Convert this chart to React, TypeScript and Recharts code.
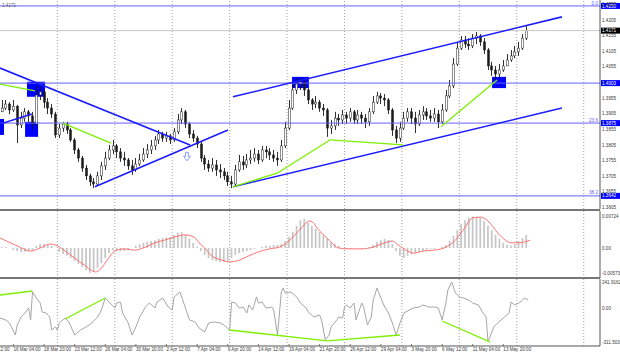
import React from 'react';
import { ComposedChart, Bar, Line, XAxis, YAxis, ReferenceLine, ReferenceArea, ReferenceDot } from 'recharts';

const FONT = '"Liberation Sans", Arial, sans-serif';
const FS = 4.6;

// ---------- time axis: H4 bar index (0 = Mon 15 Mar 00:00) ----------
const T_DOMAIN: [number, number] = [0, 313.5];
const timeTicks = [7, 23, 39, 55, 71, 87, 103, 119, 135, 151, 167, 183, 199, 215, 231, 247, 263];
const timeLabels = [
  '16 Mar 04:00', '18 Mar 20:00', '23 Mar 12:00', '26 Mar 04:00', '30 Mar 20:00', '2 Apr 12:00',
  '7 Apr 04:00', '9 Apr 20:00', '14 Apr 12:00', '19 Apr 04:00', '21 Apr 20:00', '26 Apr 12:00',
  '29 Apr 04:00', '3 May 20:00', '6 May 12:00', '11 May 04:00', '13 May 20:00',
];
const prevTimeLabel = '11 Mar 12:00';
const weekGridT = [30, 60, 90, 120, 150, 180, 210, 240, 270, 305];

// ---------- price pane ----------
const PRICE_DOMAIN: [number, number] = [1.36, 1.4269];
const priceTicks = [1.3605, 1.3655, 1.3705, 1.3755, 1.3805, 1.3855, 1.3905, 1.3955, 1.4055, 1.4105, 1.4155, 1.4205, 1.4255];
const headerText = '1.4171';
const firstOpen = 1.3911;
const closes = [
  1.3923, 1.3936, 1.3917, 1.3929, 1.3869, 1.3891, 1.3911, 1.3898, 1.3872, 1.3965,
  1.3975, 1.3942, 1.3923, 1.3904, 1.3837, 1.3859, 1.3872, 1.3853, 1.3821, 1.3789,
  1.3763, 1.3731, 1.3706, 1.3687, 1.3680, 1.3706, 1.3738, 1.3763, 1.3789, 1.3802,
  1.3783, 1.3763, 1.3757, 1.3738, 1.3725, 1.3744, 1.3757, 1.3776, 1.3789, 1.3802,
  1.3821, 1.3840, 1.3827, 1.3834, 1.3821, 1.3847, 1.3885, 1.3911, 1.3872, 1.3840,
  1.3827, 1.3808, 1.3763, 1.3744, 1.3731, 1.3741, 1.3725, 1.3719, 1.3706, 1.3687,
  1.3680, 1.3725, 1.3751, 1.3741, 1.3757, 1.3763, 1.3776, 1.3757, 1.3789, 1.3783,
  1.3773, 1.3763, 1.3757, 1.3802, 1.3859, 1.3923, 1.3981, 1.4000, 1.4007, 1.3981,
  1.3949, 1.3936, 1.3942, 1.3923, 1.3917, 1.3859, 1.3866, 1.3891, 1.3885, 1.3901,
  1.3891, 1.3911, 1.3885, 1.3901, 1.3891, 1.3879, 1.3911, 1.3942, 1.3962, 1.3955,
  1.3949, 1.3917, 1.3853, 1.3827, 1.3859, 1.3891, 1.3911, 1.3891, 1.3872, 1.3901,
  1.3911, 1.3898, 1.3891, 1.3904, 1.3879, 1.3917, 1.3962, 1.3994, 1.4064, 1.4115,
  1.4141, 1.4128, 1.4122, 1.4147, 1.4154, 1.4135, 1.4109, 1.4058, 1.4045, 1.4032,
  1.4045, 1.4058, 1.4077, 1.4090, 1.4103, 1.4115, 1.4147, 1.4171,
];
const highs = [
  1.3949, 1.3949, 1.3942, 1.3949, 1.3933, 1.3911, 1.3923, 1.3917, 1.3911, 1.3997,
  1.3994, 1.3981, 1.3955, 1.3936, 1.3911, 1.3872, 1.3879, 1.3879, 1.3859, 1.3827,
  1.3795, 1.3770, 1.3741, 1.3713, 1.3699, 1.3719, 1.3751, 1.3783, 1.3805, 1.3821,
  1.3808, 1.3795, 1.3783, 1.3763, 1.3757, 1.3763, 1.3776, 1.3795, 1.3808, 1.3821,
  1.3834, 1.3853, 1.3847, 1.3847, 1.3840, 1.3859, 1.3904, 1.3923, 1.3917, 1.3879,
  1.3853, 1.3834, 1.3815, 1.3773, 1.3757, 1.3763, 1.3757, 1.3744, 1.3731, 1.3719,
  1.3706, 1.3741, 1.3773, 1.3770, 1.3776, 1.3789, 1.3795, 1.3789, 1.3802, 1.3802,
  1.3795, 1.3789, 1.3783, 1.3821, 1.3879, 1.3949, 1.4000, 1.4019, 1.4019, 1.4013,
  1.3987, 1.3955, 1.3962, 1.3949, 1.3936, 1.3923, 1.3885, 1.3911, 1.3904, 1.3917,
  1.3911, 1.3923, 1.3917, 1.3917, 1.3911, 1.3904, 1.3923, 1.3962, 1.3975, 1.3971,
  1.3968, 1.3955, 1.3923, 1.3866, 1.3879, 1.3911, 1.3923, 1.3923, 1.3911, 1.3917,
  1.3929, 1.3923, 1.3917, 1.3923, 1.3917, 1.3936, 1.3981, 1.4013, 1.4083, 1.4135,
  1.4154, 1.4154, 1.4147, 1.4160, 1.4167, 1.4160, 1.4147, 1.4115, 1.4071, 1.4058,
  1.4064, 1.4077, 1.4096, 1.4109, 1.4122, 1.4135, 1.4160, 1.4186,
];
const lows = [
  1.3911, 1.3917, 1.3904, 1.3911, 1.3811, 1.3859, 1.3879, 1.3879, 1.3853, 1.3866,
  1.3949, 1.3923, 1.3904, 1.3891, 1.3827, 1.3827, 1.3847, 1.3840, 1.3815, 1.3776,
  1.3751, 1.3719, 1.3693, 1.3674, 1.3667, 1.3674, 1.3693, 1.3725, 1.3757, 1.3776,
  1.3763, 1.3751, 1.3738, 1.3725, 1.3709, 1.3719, 1.3738, 1.3751, 1.3763, 1.3776,
  1.3789, 1.3808, 1.3815, 1.3815, 1.3808, 1.3815, 1.3840, 1.3872, 1.3859, 1.3827,
  1.3815, 1.3795, 1.3751, 1.3725, 1.3719, 1.3719, 1.3706, 1.3699, 1.3693, 1.3674,
  1.3667, 1.3674, 1.3719, 1.3725, 1.3731, 1.3744, 1.3751, 1.3744, 1.3751, 1.3763,
  1.3757, 1.3751, 1.3738, 1.3751, 1.3795, 1.3853, 1.3917, 1.3968, 1.3981, 1.3962,
  1.3936, 1.3917, 1.3923, 1.3911, 1.3898, 1.3831, 1.3840, 1.3853, 1.3866, 1.3872,
  1.3872, 1.3879, 1.3872, 1.3872, 1.3872, 1.3859, 1.3866, 1.3904, 1.3936, 1.3936,
  1.3929, 1.3904, 1.3834, 1.3811, 1.3815, 1.3853, 1.3879, 1.3872, 1.3843, 1.3866,
  1.3885, 1.3885, 1.3879, 1.3879, 1.3859, 1.3872, 1.3911, 1.3955, 1.3987, 1.4058,
  1.4109, 1.4115, 1.4109, 1.4115, 1.4128, 1.4122, 1.4096, 1.4045, 1.4026, 1.4013,
  1.4019, 1.4039, 1.4058, 1.4071, 1.4083, 1.4090, 1.4109, 1.4141,
];
const lastPrice = 1.4171;
const levelPrices = [1.4250, 1.4003, 1.3875, 1.3642];
const levelTexts = ['1.4250', '1.4003', '1.3875', '1.3642'];
const levelFibs = ['0.0', '', '23.6', '38.2'];
const blueTrends = [
  { t1: 0, p1: 1.4051, t2: 99.3, p2: 1.3805 },
  { t1: 49.6, p1: 1.3671, t2: 119.1, p2: 1.3853 },
  { t1: 0, p1: 1.3872, t2: 16.7, p2: 1.3904 },
  { t1: 121.7, p1: 1.3959, t2: 293.6, p2: 1.4215 },
  { t1: 121.7, p1: 1.3671, t2: 293.6, p2: 1.3923 },
];
const greenPriceLines = [
  { t1: 0, p1: 1.4000, t2: 18.3, p2: 1.3978 },
  { t1: 32.9, p1: 1.3875, t2: 58, p2: 1.3811 },
  { t1: 121.7, p1: 1.3671, t2: 145.2, p2: 1.3716 },
  { t1: 145.2, p1: 1.3716, t2: 172.4, p2: 1.3821 },
  { t1: 172.4, p1: 1.3821, t2: 210.6, p2: 1.3805 },
  { t1: 230.4, p1: 1.3863, t2: 259.7, p2: 1.4013 },
];
const zoneBoxes = [
  { t1: 14.1, t2: 23.5, p1: 1.4007, p2: 1.3959 },
  { t1: 13.1, t2: 19.9, p1: 1.3879, p2: 1.3831 },
  { t1: 0, t2: 2.1, p1: 1.3888, p2: 1.3837 },
  { t1: 152.6, t2: 161.4, p1: 1.4023, p2: 1.3987 },
  { t1: 257.1, t2: 264.4, p1: 1.4023, p2: 1.3987 },
];
const arrowMark = { t: 97.7, p: 1.3767 };

// ---------- MACD pane ----------
const MACD_DOMAIN: [number, number] = [-0.0069, 0.0085];
const macdTicks = [0.00724, 0, -0.00573];
const macdTickLabels = ['0.00724', '0.00', '-0.00573'];
const macdHist = [
  0.0002, 0.0002, 0, -0.0005, -0.0007, -0.0009, -0.0009, -0.0007, -0.0005, 0.0005,
  0.0009, 0.0009, 0.0007, 0.0005, 0, -0.0009, -0.0014, -0.0018, -0.0023, -0.0030,
  -0.0037, -0.0044, -0.0051, -0.00573, -0.0053, -0.0046, -0.0035, -0.0023, -0.0012, -0.0005,
  -0.0005, -0.0007, -0.0007, -0.0005, 0, 0.0005, 0.0009, 0.0012, 0.0014, 0.0016,
  0.0018, 0.0021, 0.0023, 0.0025, 0.0025, 0.0030, 0.0035, 0.0037, 0.0030, 0.0021,
  0.0012, 0.0002, -0.0007, -0.0016, -0.0023, -0.0028, -0.0030, -0.0032, -0.0032, -0.0030,
  -0.0023, -0.0016, -0.0012, -0.0009, -0.0007, -0.0005, -0.0002, 0, 0.0002, 0.0005,
  0.0005, 0.0007, 0.0007, 0.0009, 0.0016, 0.0025, 0.0037, 0.0051, 0.0064, 0.0067,
  0.0058, 0.0051, 0.0044, 0.0037, 0.0030, 0.0021, 0.0014, 0.0009, 0.0005, 0,
  -0.0002, -0.0002, 0, 0, -0.0002, 0, 0.0002, 0.0007, 0.0014, 0.0018,
  0.0021, 0.0018, 0.0009, -0.0007, -0.0018, -0.0023, -0.0018, -0.0014, -0.0012, -0.0009,
  -0.0007, -0.0005, -0.0002, -0.0002, 0, 0.0002, 0.0007, 0.0016, 0.0028, 0.0041,
  0.0055, 0.0064, 0.0070, 0.00724, 0.0071, 0.0069, 0.0062, 0.0051, 0.0041, 0.0030,
  0.0021, 0.0012, 0.0007, 0.0005, 0.0009, 0.0016, 0.0023, 0.0030,
];
const signalT = [0, 8, 16, 21, 26, 30, 34, 39, 44, 50, 52, 56, 60, 65, 70, 76, 81, 86, 91, 97, 102, 104, 107, 110, 116, 120, 125, 130, 135, 141, 146, 151, 156, 162, 167, 172, 177, 182, 189, 195, 201, 205, 208, 213, 216, 221, 227, 233, 237, 242, 247, 251, 255, 260, 264, 267, 271, 277];
const signalV = [0.0023, 0.0007, -0.0007, 0, 0.0009, 0.0005, -0.0007, -0.0023, -0.0039, -0.0055, -0.0051, -0.0028, -0.0007, -0.0002, -0.0005, 0.0002, 0.0012, 0.0018, 0.0025, 0.0030, 0.0023, 0.0012, 0, -0.0016, -0.0028, -0.0032, -0.0028, -0.0018, -0.0009, -0.0002, 0.0002, 0.0016, 0.0039, 0.0062, 0.0039, 0.0018, 0, -0.0002, -0.0002, 0.0002, 0.0012, 0.0016, 0.0007, -0.0007, -0.0012, -0.0007, -0.0005, 0.0002, 0.0014, 0.0041, 0.0069, 0.0071, 0.0062, 0.0035, 0.0018, 0.0012, 0.0012, 0.0018];

// ---------- CCI pane ----------
const CCI_DOMAIN: [number, number] = [-348.4, 269.6];
const cciTicks = [241.9162, 0, -311.503];
const cciTickLabels = ['241.9162', '0.00', '-311.503'];
const cciT = [0, 3, 5, 8, 9, 11, 13, 15, 16, 17, 19, 21, 22, 24, 26, 27, 29, 30, 31, 34, 36, 39, 42, 45, 48, 51, 53, 55, 57, 60, 61, 63, 64, 67, 69, 71, 73, 76, 78, 81, 82, 85, 88, 90, 91, 94, 96, 99, 102, 104, 107, 109, 112, 115, 117, 120, 121, 123, 125, 127, 129, 130, 132, 134, 135, 137, 139, 142, 143, 145, 147, 148, 149, 152, 155, 157, 160, 161, 164, 167, 168, 170, 172, 173, 176, 177, 179, 180, 181, 183, 185, 186, 189, 190, 192, 194, 195, 197, 199, 201, 203, 205, 207, 209, 211, 214, 216, 219, 221, 224, 227, 229, 231, 233, 234, 236, 238, 240, 242, 245, 247, 250, 252, 254, 255, 256, 258, 260, 263, 266, 267, 269, 272, 274, 276];
const cciV = [-90, -108, -136, -247, -155, -81, -44, 2, -108, 150, 94, 48, -35, -44, -81, -201, -173, -201, -136, -90, -127, -247, -201, -173, -136, -81, -16, 94, 57, 2, 48, 57, -44, -136, -247, -173, -81, 11, 48, 2, 57, 94, 11, -16, 104, 150, 48, -108, -127, -182, -219, -136, -127, -136, -155, -201, 57, 48, 2, 11, -44, 30, -16, 104, 48, 57, 2, 11, -16, -247, 150, 187, 140, 150, 104, 48, 2, -35, -81, -62, -108, -293, -247, -173, -108, -81, -90, 11, 30, 2, 48, -108, 48, 11, -155, -81, 76, 187, 94, 11, -44, -136, -247, -136, -44, -16, 2, 11, 30, 11, 11, 2, -108, 48, 168, 241.9162, 140, 104, 94, 76, 48, 30, -35, -81, -311.503, -265, -173, -136, -90, -44, 57, 30, 57, 94, 76];
const greenCciLines = [
  { t1: 0, v1: 122, t2: 17, v2: 159 },
  { t1: 34, v1: -99, t2: 55, v2: 94 },
  { t1: 120, v1: -201, t2: 171, v2: -302 },
  { t1: 171, v1: -302, t2: 209, v2: -247 },
  { t1: 231, v1: -118, t2: 256, v2: -311 },
];

// ---------- derived tables ----------
const candles = closes.map((c, k) => ({
  t: 2 * k + 1,
  o: k === 0 ? firstOpen : closes[k - 1],
  c,
  h: highs[k],
  l: lows[k],
  range: [lows[k], highs[k]],
  macd: macdHist[k],
}));
const signal = signalT.map((t, i) => ({ t, v: signalV[i] }));
const cci = cciT.map((t, i) => ({ t, v: cciV[i] }));

// ---------- renderers ----------
function Candle(props: any) {
  const { x, y, width, height, payload } = props;
  if (!payload || height == null) return null;
  const { o, c, h, l } = payload;
  const yTop = Math.min(y, y + height);
  const hh = Math.abs(height);
  const cx = Math.round(x + width / 2) + 0.5;
  const k = hh / Math.max(h - l, 1e-9);
  const bTop = yTop + (h - Math.max(o, c)) * k;
  const bBot = yTop + (h - Math.min(o, c)) * k;
  const bull = c >= o;
  return (
    <g>
      <line x1={cx} x2={cx} y1={yTop} y2={yTop + hh} stroke="#1a1a1a" strokeWidth={0.9} />
      <rect x={cx - 1} y={bTop} width={2} height={Math.max(bBot - bTop, 0.8)} fill={bull ? '#fff' : '#1a1a1a'} stroke="#1a1a1a" strokeWidth={0.5} />
    </g>
  );
}

function PriceTick(props: any) {
  const { x, y, payload } = props;
  return (
    <text x={x} y={y} dy={1.6} fontSize={FS} fill="#3a3a3a" fontFamily={FONT}>
      {Number(payload.value).toFixed(4)}
    </text>
  );
}

function makeListTick(values: number[], labels: string[]) {
  return function ListTick(props: any) {
    const { x, y, payload } = props;
    const i = values.indexOf(payload.value);
    return (
      <text x={x} y={y} dy={1.6} fontSize={FS} fill="#3a3a3a" fontFamily={FONT}>
        {i >= 0 ? labels[i] : ''}
      </text>
    );
  };
}
const MacdTick = makeListTick(macdTicks, macdTickLabels);
const CciTick = makeListTick(cciTicks, cciTickLabels);

function TimeTick(props: any) {
  const { x, y, payload, index } = props;
  const i = timeTicks.indexOf(payload.value);
  const step = (timeTicks[1] - timeTicks[0]) * (600 / T_DOMAIN[1]);
  return (
    <g>
      {index === 0 && (
        <text x={x - step} y={y} dy={3} fontSize={FS} fill="#3a3a3a" fontFamily={FONT}>{prevTimeLabel}</text>
      )}
      <line x1={x} x2={x} y1={y - 4} y2={y - 2} stroke="#555" strokeWidth={0.8} />
      <text x={x} y={y} dy={3} fontSize={FS} fill="#3a3a3a" fontFamily={FONT}>{i >= 0 ? timeLabels[i] : ''}</text>
    </g>
  );
}

function LevelLabel(props: any) {
  const { viewBox, text, fib, box } = props;
  if (!viewBox) return null;
  const { x, y, width } = viewBox;
  const right = x + width;
  return (
    <g>
      {fib ? (
        <text x={right - 2} y={y - 1.4} textAnchor="end" fontSize={FS} fill="#5a5aff" fontFamily={FONT}>{fib}</text>
      ) : null}
      <rect x={right + 1} y={y - 3} width={19} height={6} fill={box} />
      <text x={right + 2} y={y + 1.6} fontSize={FS} fill="#fff" fontFamily={FONT}>{text}</text>
    </g>
  );
}

function DownArrow(props: any) {
  const { cx, cy } = props;
  if (cx == null || cy == null) return null;
  return (
    <path
      d={`M${cx - 1.4},${cy - 4.5} h2.8 v4 h2 l-3.4,4.5 l-3.4,-4.5 h2 z`}
      fill="#fff"
      stroke="#6a86ff"
      strokeWidth={0.8}
    />
  );
}

const gridLines = (prefix: string) =>
  weekGridT.map((t) => (
    <ReferenceLine key={`${prefix}-g-${t}`} x={t} stroke="#8a8a8a" strokeWidth={0.8} strokeDasharray="1 2" />
  ));

const margin = { top: 0, right: 0, bottom: 0, left: 0 };
const yAxisCommon = {
  orientation: 'right' as const,
  width: 20,
  allowDataOverflow: true,
  tickLine: false,
  tickSize: 0,
  tickMargin: 2,
  interval: 0 as const,
  axisLine: { stroke: '#555', strokeWidth: 1 },
};

export default function App() {
  return (
    <div style={{ position: 'absolute', left: 0, top: 0, width: 620, height: 357, background: '#fff', overflow: 'hidden' }}>
      {/* price pane */}
      <div style={{ position: 'absolute', left: 0, top: 0 }}>
        <ComposedChart width={620} height={209} data={candles} margin={margin}>
          <XAxis dataKey="t" type="number" domain={T_DOMAIN} allowDataOverflow hide />
          <YAxis {...yAxisCommon} domain={PRICE_DOMAIN} ticks={priceTicks} tick={<PriceTick />} />
          {gridLines('p')}
          {zoneBoxes.map((b, i) => (
            <ReferenceArea key={`box-${i}`} x1={b.t1} x2={b.t2} y1={b.p2} y2={b.p1} fill="#0000ff" fillOpacity={1} stroke="none" />
          ))}
          <ReferenceLine y={lastPrice} stroke="#c8c8c8" strokeWidth={1} label={<LevelLabel text={lastPrice.toFixed(4)} fib="" box="#000" />} />
          {levelPrices.map((p, i) => (
            <ReferenceLine key={`lvl-${i}`} y={p} stroke="#6262ff" strokeWidth={1} label={<LevelLabel text={levelTexts[i]} fib={levelFibs[i]} box="#0000ff" />} />
          ))}
          <Bar dataKey="range" shape={<Candle />} barSize={3} isAnimationActive={false} />
          {blueTrends.map((l, i) => (
            <ReferenceLine key={`bt-${i}`} segment={[{ x: l.t1, y: l.p1 }, { x: l.t2, y: l.p2 }]} stroke="#1c1cff" strokeWidth={1.6} ifOverflow="hidden" />
          ))}
          {greenPriceLines.map((l, i) => (
            <ReferenceLine key={`gp-${i}`} segment={[{ x: l.t1, y: l.p1 }, { x: l.t2, y: l.p2 }]} stroke="#7cf000" strokeWidth={1.3} ifOverflow="hidden" />
          ))}
          <ReferenceDot x={arrowMark.t} y={arrowMark.p} r={4} shape={<DownArrow />} />
        </ComposedChart>
      </div>

      {/* MACD pane */}
      <div style={{ position: 'absolute', left: 0, top: 211 }}>
        <ComposedChart width={620} height={67} data={candles} margin={margin}>
          <XAxis dataKey="t" type="number" domain={T_DOMAIN} allowDataOverflow hide />
          <YAxis {...yAxisCommon} domain={MACD_DOMAIN} ticks={macdTicks} tick={<MacdTick />} />
          {gridLines('m')}
          <Bar dataKey="macd" fill="#c6c6c6" barSize={2.6} isAnimationActive={false} />
          <Line data={signal} dataKey="v" type="monotone" stroke="#ff6262" strokeWidth={0.9} dot={false} isAnimationActive={false} />
        </ComposedChart>
      </div>

      {/* CCI pane */}
      <div style={{ position: 'absolute', left: 0, top: 279 }}>
        <ComposedChart width={620} height={78} data={cci} margin={margin}>
          <XAxis
            dataKey="t"
            type="number"
            domain={T_DOMAIN}
            allowDataOverflow
            ticks={timeTicks}
            interval={0}
            height={11}
            tickLine={false}
            tickSize={0}
            tickMargin={2}
            axisLine={{ stroke: '#555', strokeWidth: 1 }}
            tick={<TimeTick />}
          />
          <YAxis {...yAxisCommon} domain={CCI_DOMAIN} ticks={cciTicks} tick={<CciTick />} />
          {gridLines('c')}
          <Line dataKey="v" type="linear" stroke="#a6a6a6" strokeWidth={1} dot={false} isAnimationActive={false} />
          {greenCciLines.map((l, i) => (
            <ReferenceLine key={`gc-${i}`} segment={[{ x: l.t1, y: l.v1 }, { x: l.t2, y: l.v2 }]} stroke="#7cf000" strokeWidth={1.3} ifOverflow="hidden" />
          ))}
        </ComposedChart>
      </div>

      {/* pane separators */}
      <div style={{ position: 'absolute', left: 0, top: 209, width: 600, height: 2, background: '#777' }} />
      <div style={{ position: 'absolute', left: 0, top: 277, width: 600, height: 2, background: '#777' }} />

      {/* header price text, top-left */}
      <svg style={{ position: 'absolute', left: 0, top: 0 }} width={40} height={10}>
        <text x={2} y={6.5} fontSize={FS} fill="#555" fontFamily={FONT}>{headerText}</text>
      </svg>
    </div>
  );
}
